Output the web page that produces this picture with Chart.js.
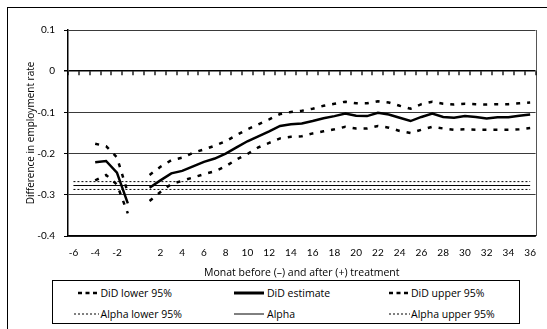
<!DOCTYPE html>
<html>
<head>
<meta charset="utf-8">
<script src="https://cdn.jsdelivr.net/npm/chart.js@4/dist/chart.umd.min.js"></script>
<style>
  html, body { margin: 0; padding: 0; background: #fff; }
  #wrap { position: relative; width: 547px; height: 329px; overflow: hidden; font-family: "Open Sans", sans-serif; }
  #frame { position: absolute; left: 7px; top: 7px; width: 600px; height: 400px;
           border-left: 1.5px solid #000; border-top: 1.5px solid #000; }
  #chart { position: absolute; left: 0; top: 0; }
  #legend { position: absolute; left: 52px; top: 280px; width: 468px; height: 44px;
            border: 1px solid #000; box-sizing: border-box; background: #fff; }
  .key { position: absolute; }
  .txt { position: absolute; font-size: 10.5px; line-height: 12px; white-space: nowrap; color: #000; }
</style>
</head>
<body>
<div id="wrap">
  <div id="frame"></div>
  <canvas id="chart" width="547" height="329"></canvas>
  <div id="legend"></div>
</div>
<script>
// Months relative to treatment; month 0 has no observation and no label
const months = [-6, -5, -4, -3, -2, -1, 0,
  1, 2, 3, 4, 5, 6, 7, 8, 9, 10, 11, 12, 13, 14, 15, 16, 17, 18,
  19, 20, 21, 22, 23, 24, 25, 26, 27, 28, 29, 30, 31, 32, 33, 34, 35, 36];

// Difference-in-differences estimate and its 95% band
const didEstimate = [null, null, -0.221, -0.218, -0.246, -0.321, null,
  -0.283, -0.265, -0.248, -0.242, -0.231, -0.220, -0.212, -0.200, -0.185, -0.170, -0.158, -0.146,
  -0.133, -0.129, -0.127, -0.121, -0.114, -0.109, -0.103, -0.108, -0.109, -0.101, -0.105, -0.113,
  -0.121, -0.111, -0.103, -0.111, -0.113, -0.109, -0.111, -0.115, -0.112, -0.112, -0.108, -0.105];

const didLower = [null, null, -0.265, -0.252, -0.275, -0.345, null,
  -0.315, -0.293, -0.274, -0.266, -0.258, -0.250, -0.243, -0.231, -0.214, -0.201, -0.185, -0.174,
  -0.163, -0.159, -0.158, -0.151, -0.146, -0.141, -0.135, -0.139, -0.139, -0.133, -0.137, -0.145,
  -0.150, -0.142, -0.135, -0.139, -0.142, -0.141, -0.142, -0.142, -0.142, -0.142, -0.141, -0.138];

const didUpper = [null, null, -0.176, -0.182, -0.209, -0.295, null,
  -0.252, -0.232, -0.216, -0.210, -0.198, -0.190, -0.181, -0.170, -0.155, -0.141, -0.129, -0.117,
  -0.104, -0.099, -0.096, -0.091, -0.084, -0.079, -0.074, -0.078, -0.078, -0.073, -0.076, -0.084,
  -0.091, -0.080, -0.074, -0.079, -0.081, -0.079, -0.080, -0.081, -0.080, -0.080, -0.078, -0.076];

// Alpha level and its 95% band (constant over the whole window)
const alphaValue = -0.2775;
const alphaLower = -0.287;
const alphaUpper = -0.268;

const yTicks = [0.1, 0, -0.1, -0.2, -0.3, -0.4];

const seriesNames = ['DiD lower 95%', 'DiD estimate', 'DiD upper 95%',
                     'Alpha lower 95%', 'Alpha', 'Alpha upper 95%'];

const labels = months.map(String);
const flat = v => [{ x: labels[0], y: v }, { x: labels[labels.length - 1], y: v }];

const TICK_FONT = { family: 'Lato, sans-serif', size: 10 };
const TITLE_FONT = { family: '"Open Sans", sans-serif', size: 10 };

// Right edge of the plot area
const plotEdge = {
  id: 'plotEdge',
  beforeDatasetsDraw(chart) {
    const { ctx, chartArea: a } = chart;
    ctx.save();
    ctx.strokeStyle = '#555';
    ctx.lineWidth = 1;
    ctx.beginPath();
    const x = Math.round(a.right) + 0.5;
    ctx.moveTo(x, a.top);
    ctx.lineTo(x, a.bottom);
    ctx.stroke();
    ctx.restore();
  }
};

// The category axis crosses at y = 0: tick marks between categories, hanging below the zero line
const zeroAxisTicks = {
  id: 'zeroAxisTicks',
  afterDraw(chart) {
    const ctx = chart.ctx;
    const a = chart.chartArea;
    const y0 = chart.scales.y.getPixelForValue(0);
    const step = (a.right - a.left) / months.length;
    ctx.save();
    ctx.strokeStyle = '#000';
    ctx.lineWidth = 1.3;
    ctx.beginPath();
    for (let i = 0; i <= months.length; i++) {
      const x = Math.round(a.left + i * step);
      ctx.moveTo(x, y0);
      ctx.lineTo(x, y0 + 4);
    }
    ctx.stroke();
    ctx.restore();
  }
};

const common = { pointRadius: 0, pointHoverRadius: 0, tension: 0, spanGaps: false, fill: false, borderColor: '#000' };

new Chart(document.getElementById('chart'), {
  type: 'line',
  data: {
    labels: labels,
    datasets: [
      { ...common, label: seriesNames[0], data: didLower, borderWidth: 2.5, borderDash: [4, 7] },
      { ...common, label: seriesNames[1], data: didEstimate, borderWidth: 2.5 },
      { ...common, label: seriesNames[2], data: didUpper, borderWidth: 2.5, borderDash: [4, 7] },
      { ...common, label: seriesNames[3], data: flat(alphaLower), borderWidth: 1, borderDash: [2, 2] },
      { ...common, label: seriesNames[4], data: flat(alphaValue), borderWidth: 1 },
      { ...common, label: seriesNames[5], data: flat(alphaUpper), borderWidth: 1, borderDash: [2, 2] }
    ]
  },
  options: {
    responsive: false,
    devicePixelRatio: 1,
    animation: false,
    events: [],
    layout: { padding: { left: 0, top: 30, right: 4, bottom: 50 } },
    plugins: { legend: { display: false }, tooltip: { enabled: false } },
    scales: {
      x: {
        type: 'category',
        position: 'bottom',
        offset: true,
        grid: { display: false, drawTicks: false },
        border: { display: true, color: '#000', width: 1.5 },
        ticks: {
          autoSkip: false, maxRotation: 0, minRotation: 0, padding: 11,
          color: '#000', font: TICK_FONT,
          callback: (v, i) => (months[i] % 2 === 0 && months[i] !== 0) ? String(months[i]) : ''
        },
        title: {
          display: true, text: 'Monat before (\u2013) and after (+) treatment',
          color: '#000', font: { family: '"Open Sans", sans-serif', size: 10.5 }, padding: { top: 0, bottom: 0 }
        },
        afterFit: s => { s.height = 43; }
      },
      y: {
        min: -0.4, max: 0.1,
        afterBuildTicks: s => { s.ticks = yTicks.map(v => ({ value: v })); },
        grid: {
          drawTicks: true, tickLength: 4,
          color: c => (c.tick && c.tick.value === 0) ? '#000' : '#3a3a3a',
          lineWidth: c => (c.tick && c.tick.value === 0) ? 1.5 : 1,
          tickColor: '#000'
        },
        border: { display: true, color: '#000', width: 1.5 },
        ticks: {
          padding: 9, color: '#000', font: TICK_FONT,
          callback: v => { const r = Math.round(v * 10) / 10; return r === 0 ? '0' : String(r); }
        },
        title: {
          display: true, text: 'Difference in employment rate',
          color: '#000', font: TITLE_FONT, padding: { top: 25, bottom: 0 }
        },
        afterFit: s => { s.width = 68; }
      }
    }
  },
  plugins: [plotEdge, zeroAxisTicks]
});

// Legend: three columns, two rows, keys drawn as SVG line samples
const legendKeys = [
  { x1: 25, x2: 45, w: 2.5, dash: '4,3.5', col: 0, row: 0 },
  { x1: 181, x2: 211, w: 3, dash: '', col: 1, row: 0 },
  { x1: 336, x2: 356, w: 2.5, dash: '4,3.5', col: 2, row: 0 },
  { x1: 21, x2: 46, w: 1, dash: '2,2', col: 0, row: 1 },
  { x1: 181, x2: 211, w: 1, dash: '', col: 1, row: 1 },
  { x1: 336, x2: 357, w: 1, dash: '2,2', col: 2, row: 1 }
];
const textX = [47.5, 214, 358];
const rowY = [11.5, 32.5];
const legend = document.getElementById('legend');
legendKeys.forEach((k, i) => {
  const svgNS = 'http://www.w3.org/2000/svg';
  const svg = document.createElementNS(svgNS, 'svg');
  svg.setAttribute('class', 'key');
  svg.setAttribute('width', k.x2 - k.x1 + 2);
  svg.setAttribute('height', 6);
  svg.style.left = (k.x1 - 1) + 'px';
  svg.style.top = (rowY[k.row] - 3) + 'px';
  const ln = document.createElementNS(svgNS, 'line');
  ln.setAttribute('x1', 1); ln.setAttribute('x2', k.x2 - k.x1 + 1);
  ln.setAttribute('y1', 3); ln.setAttribute('y2', 3);
  ln.setAttribute('stroke', '#000');
  ln.setAttribute('stroke-width', k.w);
  if (k.dash) ln.setAttribute('stroke-dasharray', k.dash);
  svg.appendChild(ln);
  legend.appendChild(svg);
  const t = document.createElement('div');
  t.className = 'txt';
  t.textContent = seriesNames[i];
  t.style.left = textX[k.col] + 'px';
  t.style.top = (rowY[k.row] - 6) + 'px';
  legend.appendChild(t);
});
</script>
</body>
</html>
